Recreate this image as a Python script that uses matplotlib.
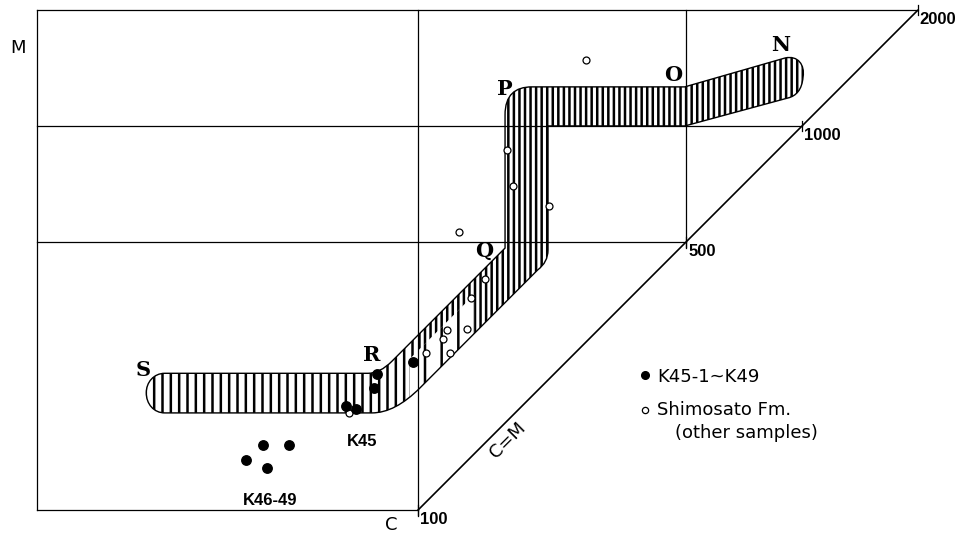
import matplotlib.pyplot as plt
from matplotlib.path import Path
from matplotlib.patches import PathPatch, Polygon, Rectangle

plt.rcParams['font.family'] = 'DejaVu Sans'
plt.rcParams['hatch.linewidth'] = 1.8

# K45-1 ~ K49 samples (filled dots), C and M
k_c = [78, 77, 65, 69, 97, 39.5, 46, 35.6, 40.4]
k_m = [226, 208, 187, 183, 243, 148, 148, 135, 129]

# Shimosato Fm. other samples (open circles)
shim_c = [274, 170, 177, 219, 128, 149, 137, 119, 134, 116, 105, 121, 66]
shim_m = [1485, 866, 698, 619, 530, 400, 356, 294, 296, 279, 256, 256, 179]

# outline of the S-R-Q-P-O-N band (C, M)
band_pts = [(21.9, 227), (74.1, 227), (79.6, 227), (85.5, 244),
            (168.5, 481), (168.5, 1068), (168.5, 1204), (178.9, 1264), (198, 1264),
            (495, 1264), (903, 1503), (976, 1530), (1018, 1441), (1006, 1342),
            (1000, 1241), (964, 1197), (920, 1183), (495, 1000), (218, 1000),
            (218, 475), (218, 442), (205, 422), (101.2, 208), (87.1, 179), (75.9, 179),
            (21.9, 179), (20.5, 179), (19.6, 189), (19.6, 202),
            (19.6, 215), (20.5, 227), (21.9, 227), (21.9, 227)]
band_codes = [Path.MOVETO, Path.LINETO, Path.CURVE3, Path.CURVE3,
              Path.LINETO, Path.LINETO, Path.CURVE4, Path.CURVE4, Path.CURVE4,
              Path.LINETO, Path.LINETO, Path.CURVE4, Path.CURVE4, Path.CURVE4,
              Path.CURVE4, Path.CURVE4, Path.CURVE4, Path.LINETO, Path.LINETO,
              Path.LINETO, Path.CURVE3, Path.CURVE3, Path.LINETO, Path.CURVE3, Path.CURVE3,
              Path.LINETO, Path.CURVE4, Path.CURVE4, Path.CURVE4,
              Path.CURVE4, Path.CURVE4, Path.CURVE4, Path.CLOSEPOLY]

# letters along the band
band_labels = ['S', 'R', 'Q', 'P', 'O', 'N']
band_lab_c = [19.2, 75.9, 149, 168.5, 461, 882]
band_lab_m = [232, 253, 473, 1249, 1358, 1625]

# grid / scale
c_left = 10.2
m_top = 2000
hlines = [100, 500, 1000, 2000]
vlines = [100, 500]
diag_ticks = [100, 500, 1000, 2000]

fig = plt.figure(figsize=(9.55, 5.35), dpi=100)
ax = fig.add_axes([0, 0, 1, 1])
ax.set_xscale('log')
ax.set_yscale('log')
ax.set_xlim(8.155, 2502)
ax.set_ylim(86.1, 2128)
ax.axis('off')

# band
path = Path(band_pts, band_codes)
band = PathPatch(path, facecolor='white', edgecolor='black', lw=0, hatch='|||', zorder=2)
ax.add_patch(band)
# sparser hatching on the S side and around R-Q
s_part = Rectangle((10, 150), 90, 150, facecolor='white', edgecolor='black',
                   lw=0, hatch='||', zorder=2.1)
ax.add_patch(s_part)
s_part.set_clip_path(band)
rq_part = Polygon([(95, 190), (140, 280), (140, 364), (95, 247)], closed=True,
                  facecolor='white', edgecolor='black', lw=0, hatch='|', zorder=2.2)
ax.add_patch(rq_part)
rq_part.set_clip_path(band)
ax.add_patch(PathPatch(path, facecolor='none', edgecolor='black', lw=1.0, zorder=2.5))

# frame and grid
lw = 0.9
num_font = dict(fontsize=12, fontweight='bold', family='Liberation Sans')
ax.plot([c_left, c_left], [100, m_top], color='black', lw=lw, zorder=3)
for m in hlines:
    ax.plot([c_left, m], [m, m], color='black', lw=lw, zorder=3)
for c in vlines:
    ax.plot([c, c], [c * 0.965, m_top], color='black', lw=lw, zorder=3)
ax.plot([100, m_top], [100, m_top], color='black', lw=1.2, zorder=3)
for v in diag_ticks:
    ax.plot([v, v], [v * 0.97, v * 1.03], color='black', lw=lw, zorder=3)
    ax.text(v * 1.012, v * 0.945, str(v), ha='left', va='center', **num_font)

# points
ax.plot(shim_c, shim_m, 'o', ms=5, mfc='white', mec='black', mew=0.9, zorder=4)
ax.plot(k_c, k_m, 'o', ms=6.8, color='black', zorder=5)

for lab, c, m in zip(band_labels, band_lab_c, band_lab_m):
    ax.text(c, m, lab, ha='center', va='center', fontsize=15, fontweight='bold',
            family='DejaVu Serif')

ax.text(9.08, 1596, 'M', ha='center', va='center', fontsize=13)
ax.text(85.1, 91.6, 'C', ha='center', va='center', fontsize=13)
ax.text(171.5, 152.2, 'C=M', ha='center', va='center', fontsize=13, rotation=45)
ax.text(71.5, 151.2, 'K45', ha='center', va='center', **num_font)
ax.text(41.2, 106.2, 'K46-49', ha='center', va='center', **num_font)

# legend
ax.plot([0.6754], [0.2991], 'o', ms=5.5, color='black', transform=ax.transAxes)
ax.text(0.688, 0.2953, 'K45-1~K49', transform=ax.transAxes, va='center', fontsize=13)
ax.plot([0.6754], [0.2336], 'o', ms=4.5, mfc='white', mec='black', mew=0.9,
        transform=ax.transAxes)
ax.text(0.688, 0.2336, 'Shimosato Fm.', transform=ax.transAxes, va='center', fontsize=13)
ax.text(0.7068, 0.1907, '(other samples)', transform=ax.transAxes, va='center', fontsize=13)

fig.savefig('out.png', dpi=100)
